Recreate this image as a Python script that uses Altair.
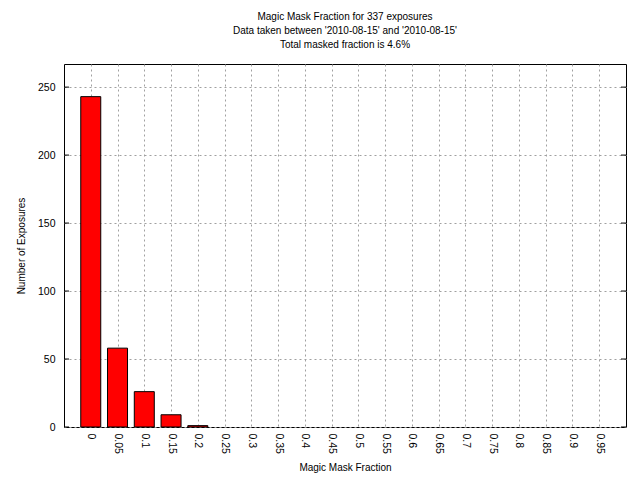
import altair as alt
import pandas as pd
import json

labels = ["0", "0.05", "0.1", "0.15", "0.2", "0.25", "0.3", "0.35", "0.4", "0.45",
          "0.5", "0.55", "0.6", "0.65", "0.7", "0.75", "0.8", "0.85", "0.9", "0.95"]
counts = [243, 58, 26, 9, 1, 0, 0, 0, 0, 0, 0, 0, 0, 0, 0, 0, 0, 0, 0, 0]
y_ticks = [0, 50, 100, 150, 200, 250]

df = pd.DataFrame({"idx": list(range(len(labels))), "label": labels, "count": counts})
tick_df = pd.DataFrame({"t": y_ticks})

FONT = "Liberation Sans"
label_expr = json.dumps(labels) + "[datum.value]"
W, H = 562, 363

y_scale = alt.Scale(domain=[0, 267], nice=False, padding=0)

bars = alt.Chart(df).transform_filter(
    alt.datum["count"] > 0
).mark_bar(size=20, color="#ff0000", stroke="black", strokeWidth=1).encode(
    x=alt.X("idx:Q", title="Magic Mask Fraction",
            scale=alt.Scale(domain=[-1, 20], nice=False, zero=False, padding=0),
            axis=alt.Axis(values=list(range(len(labels))), labelExpr=label_expr,
                          labelAngle=90, labelAlign="left", labelBaseline="middle",
                          labelPadding=6, tickSize=0, grid=True, gridDash=[2, 3],
                          gridColor="#a0a0a0", domain=False, titlePadding=9)),
    y=alt.Y("count:Q", title="Number of Exposures", scale=y_scale,
            axis=alt.Axis(values=y_ticks, tickSize=0, labelPadding=9, grid=True,
                          gridDash=[2, 3], gridColor="#a0a0a0", domain=False,
                          titlePadding=11)),
)

left_ticks = alt.Chart(tick_df).mark_rule(color="black", strokeWidth=1).encode(
    y=alt.Y("t:Q", scale=y_scale), x=alt.value(0), x2=alt.value(5))
right_ticks = alt.Chart(tick_df).mark_rule(color="black", strokeWidth=1).encode(
    y=alt.Y("t:Q", scale=y_scale), x=alt.value(W - 5), x2=alt.value(W))

chart = alt.layer(bars, left_ticks, right_ticks).properties(
    width=W, height=H,
    title=alt.TitleParams(
        text=["Magic Mask Fraction for 337 exposures",
              "Data taken between '2010-08-15' and '2010-08-15'",
              "Total masked fraction is 4.6%"],
        fontSize=10, fontWeight="normal", font=FONT, lineHeight=14, offset=14,
        anchor="middle", color="black"),
    autosize=alt.AutoSizeParams(type="none"),
    padding={"left": 56, "top": 56, "right": 6, "bottom": 52},
).configure_view(
    stroke="black", strokeWidth=1
).configure_axis(
    labelFont=FONT, titleFont=FONT, labelFontSize=10.5, titleFontSize=10,
    titleFontWeight="normal", labelColor="black", titleColor="black"
)

chart.save("out.html", embed_options={"renderer": "svg", "actions": False})
